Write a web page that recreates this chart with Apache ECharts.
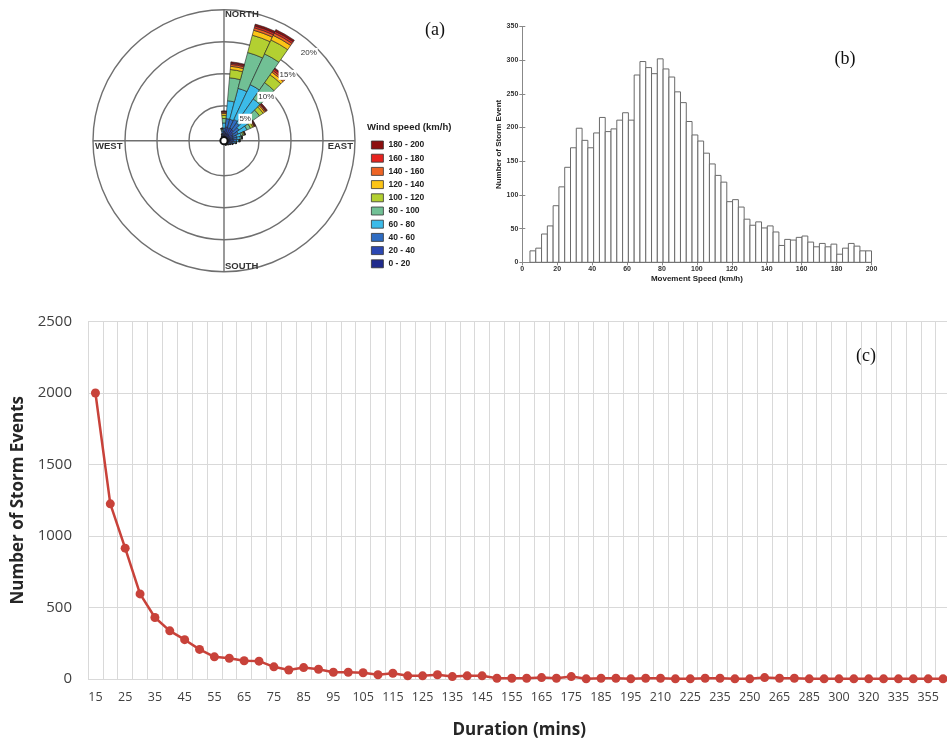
<!DOCTYPE html>
<html><head><meta charset="utf-8">
<script src="https://cdn.jsdelivr.net/npm/echarts@6/dist/echarts.min.js"></script>
<style>html,body{margin:0;padding:0;background:#fff}#c{width:947px;height:741px}</style>
</head><body><div id="c"></div>
<script>
// ---------- (a) wind rose : percent of storm events by direction and speed class ----------
const directions = ['0','10','20','30','40','50','60','70','80','90','100','110','120','130','140','150','160','170',
  '180','190','200','210','220','230','240','250','260','270','280','290','300','310','320','330','340','350'];
const speedClasses = ['0 - 20','20 - 40','40 - 60','60 - 80','80 - 100','100 - 120','120 - 140','140 - 160','160 - 180','180 - 200'];
const speedColors = ['#1f2a8c','#2c48b2','#2f6cc2','#3cbbe9','#71c095','#b3d031','#fcc416','#ee6425','#e6231f','#8c0f0f'];
const ws0_20    = [0.5,0.8,0.7,0.7,0.7,0.6,0.5,0.5,0.5,0.5, 0.4,0.3,0.3,0.2,0.2,0.1,0.1,0.1,0,0, 0,0,0,0,0,0,0,0,0,0, 0,0,0,0.1,0.2,0.4];
const ws20_40   = [0.5,0.9,0.9,1.0,0.9,0.7,0.6,0.5,0.5,0.5, 0.4,0.3,0.2,0.2,0.1,0.1,0.1,0,0,0, 0,0,0,0,0,0,0,0,0,0, 0,0,0,0.1,0.2,0.3];
const ws40_60   = [0.5,1.3,1.4,1.5,1.3,1.1,0.9,0.6,0.6,0.5, 0.4,0.3,0.2,0.1,0,0,0,0,0,0, 0,0,0,0,0,0,0,0,0,0, 0,0,0,0.1,0.1,0.3];
const ws60_80   = [0.8,2.8,5.0,6.0,4.6,2.6,1.5,0.7,0.5,0.3, 0.2,0.1,0,0,0,0,0,0,0,0, 0,0,0,0,0,0,0,0,0,0, 0,0,0,0,0.1,0.2];
const ws80_100  = [0.7,3.6,5.8,5.3,3.1,1.3,0.6,0.3,0.2,0.1, 0.1,0,0,0,0,0,0,0,0,0, 0,0,0,0,0,0,0,0,0,0, 0,0,0,0,0,0.1];
const ws100_120 = [0.5,1.3,2.8,2.4,1.5,0.7,0.4,0.2,0.1,0.1, 0,0,0,0,0,0,0,0,0,0, 0,0,0,0,0,0,0,0,0,0, 0,0,0,0,0,0.1];
const ws120_140 = [0.3,0.5,0.8,0.8,0.5,0.3,0.2,0.1,0,0, 0,0,0,0,0,0,0,0,0,0, 0,0,0,0,0,0,0,0,0,0, 0,0,0,0,0,0.05];
const ws140_160 = [0.2,0.3,0.4,0.4,0.3,0.2,0.1,0.05,0,0, 0,0,0,0,0,0,0,0,0,0, 0,0,0,0,0,0,0,0,0,0, 0,0,0,0,0,0.05];
const ws160_180 = [0.1,0.2,0.3,0.3,0.3,0.1,0.1,0.05,0,0, 0,0,0,0,0,0,0,0,0,0, 0,0,0,0,0,0,0,0,0,0, 0,0,0,0,0,0];
const ws180_200 = [0.1,0.2,0.3,0.3,0.2,0.2,0.1,0,0,0, 0,0,0,0,0,0,0,0,0,0, 0,0,0,0,0,0,0,0,0,0, 0,0,0,0,0,0];
const speedData = [ws0_20, ws20_40, ws40_60, ws60_80, ws80_100, ws100_120, ws120_140, ws140_160, ws160_180, ws180_200];
const compassLabels = ['NORTH','EAST','SOUTH','WEST'];
const percentTicks = [5,10,15,20];

// ---------- (b) histogram of movement speed ----------
const histRange = [4.4, 200];
const histCounts = [17,21,42,54,84,112,141,170,199,181, 170,192,215,194,198,211,222,211,278,298,
  289,280,302,287,275,253,237,209,189,180, 162,146,129,119,90,93,82,64,55,60,
  51,54,45,25,34,33,37,39,30,23, 28,23,27,12,21,28,24,17,17];

// ---------- (c) storm events by duration ----------
const durationCats = ['15','20','25','30','35','40','45','50','55','60','65','70','75','80','85','90','95','100',
  '105','110','115','120','125','130','135','140','145','150','155','160','165','170','175','180','185','190',
  '195','200','210','215','225','230','235','240','250','255','265','270','285','290','300','305','320','325',
  '335','345','355','360'];
const stormEvents = [2000,1225,915,595,430,337,275,207,155,145,128,125,85,63,80,68,47,47,
  44,30,40,22,22,30,17,22,22,5,5,5,10,5,17,1,5,5,
  1,5,5,1,1,5,5,1,1,10,5,5,1,1,1,1,1,1,
  1,1,1,1];

// ---------- layout constants ----------
const roseCx = 224, roseCy = 140.7, roseR = 131;
const sans = 'Liberation Sans, Arial, sans-serif';
const xl = 'Open Sans, sans-serif';

const binW = (histRange[1] - histRange[0]) / histCounts.length;
const histData = histCounts.map((c, i) => [histRange[0] + i * binW, histRange[0] + (i + 1) * binW, c]);

const chart = echarts.init(document.getElementById('c'), null, {renderer: 'canvas'});

const roseSeries = speedClasses.map((name, i) => ({
  name, type: 'bar', coordinateSystem: 'polar', polarIndex: 0, stack: 'rose',
  barCategoryGap: '0%', data: speedData[i],
  itemStyle: {color: speedColors[i], borderColor: '#222', borderWidth: 0.6},
  emphasis: {disabled: true}, z: 3
}));

const hiddenAxisParts = {axisLine: {show: false}, axisTick: {show: false}, axisLabel: {show: false}, splitLine: {show: false}};

const option = {
  animation: false,
  backgroundColor: '#fff',
  polar: [
    {center: [roseCx, roseCy], radius: [3, roseR]},
    {center: [roseCx, roseCy], radius: [3, roseR]},
    {center: [roseCx, roseCy], radius: [0, 122]}
  ],
  angleAxis: [
    Object.assign({polarIndex: 0, type: 'category', data: directions, startAngle: 95, clockwise: true}, hiddenAxisParts),
    {polarIndex: 1, type: 'value', min: 0, max: 360, interval: 90, startAngle: 90, clockwise: true,
      axisLine: {show: false}, axisTick: {show: false}, axisLabel: {show: false},
      splitLine: {show: true, lineStyle: {color: '#6f6f6f', width: 1.4}}},
    Object.assign({polarIndex: 2, type: 'value', min: 0, max: 360, startAngle: 46}, hiddenAxisParts)
  ],
  radiusAxis: [
    {polarIndex: 0, min: 0, max: 20, interval: 5, axisLine: {show: false}, axisTick: {show: false}, axisLabel: {show: false},
      splitLine: {show: true, lineStyle: {color: '#6f6f6f', width: 1.4}}},
    Object.assign({polarIndex: 1, min: 0, max: 20}, hiddenAxisParts),
    {polarIndex: 2, min: 0, max: 20, interval: 5, z: 20, axisLine: {show: false}, axisTick: {show: false}, splitLine: {show: false},
      axisLabel: {show: true, showMinLabel: false, margin: 0, align: 'center', verticalAlign: 'middle',
        formatter: v => percentTicks.includes(v) ? v + '%' : '',
        fontFamily: sans, fontSize: 8, color: '#333', backgroundColor: '#fff', padding: [1, 1]}}
  ],
  legend: {
    orient: 'vertical', left: 366, top: 135, icon: 'rect', itemWidth: 12, itemHeight: 8, itemGap: 3.2,
    data: speedClasses.slice().reverse(), selectedMode: false,
    itemStyle: {borderColor: '#333', borderWidth: 0.8},
    textStyle: {fontFamily: sans, fontSize: 8.5, fontWeight: 'bold', color: '#222', lineHeight: 10, padding: [0, 0, 0, 0]}
  },
  grid: [
    {left: 522.3, right: 75.5, top: 26.5, bottom: 478.7, outerBoundsMode: 'none'},
    {left: 88, right: -3.5, top: 321.5, bottom: 62, outerBoundsMode: 'none'}
  ],
  xAxis: [
    {gridIndex: 0, type: 'value', min: 0, max: 200, interval: 20, position: 'bottom',
      name: 'Movement Speed (km/h)', nameLocation: 'middle', nameGap: 12,
      nameTextStyle: {fontFamily: sans, fontSize: 8, fontWeight: 'bold', color: '#222'},
      axisLine: {show: true, lineStyle: {color: '#888'}}, axisTick: {show: true, inside: true, length: 3, lineStyle: {color: '#888'}},
      axisLabel: {fontFamily: sans, fontSize: 7, fontWeight: 'bold', color: '#333', margin: 3}, splitLine: {show: false}},
    {gridIndex: 0, type: 'value', min: 0, max: 200, interval: 20, position: 'top',
      axisLine: {show: true, lineStyle: {color: '#888'}}, axisTick: {show: true, inside: true, length: 3, lineStyle: {color: '#888'}},
      axisLabel: {show: false}, splitLine: {show: false}},
    {gridIndex: 1, type: 'category', data: durationCats, boundaryGap: true,
      name: 'Duration (mins)', nameLocation: 'middle', nameGap: 43,
      nameTextStyle: {fontFamily: xl, fontSize: 17, fontWeight: 'bold', color: '#262626'},
      axisLine: {show: false}, axisTick: {show: false},
      axisLabel: {interval: 1, fontFamily: xl, fontSize: 12.5, color: '#404040', margin: 12},
      splitLine: {show: true, interval: 0, lineStyle: {color: '#d9d9d9', width: 1}}}
  ],
  yAxis: [
    {gridIndex: 0, type: 'value', min: 0, max: 350, interval: 50,
      name: 'Number of Storm Event', nameLocation: 'middle', nameGap: 20,
      nameTextStyle: {fontFamily: sans, fontSize: 8, fontWeight: 'bold', color: '#222'},
      axisLine: {show: true, lineStyle: {color: '#888'}}, axisTick: {show: true, inside: true, length: 3, lineStyle: {color: '#888'}},
      axisLabel: {fontFamily: sans, fontSize: 7, fontWeight: 'bold', color: '#333', margin: 4}, splitLine: {show: false}},
    {gridIndex: 0, type: 'value', min: 0, max: 350, interval: 50, position: 'right',
      axisLine: {show: true, lineStyle: {color: '#888'}}, axisTick: {show: true, inside: true, length: 3, lineStyle: {color: '#888'}},
      axisLabel: {show: false}, splitLine: {show: false}},
    {gridIndex: 1, type: 'value', min: 0, max: 2500, interval: 500,
      name: 'Number of Storm Events', nameLocation: 'middle', nameGap: 56,
      nameTextStyle: {fontFamily: xl, fontSize: 17, fontWeight: 'bold', color: '#262626'},
      axisLine: {show: false}, axisTick: {show: false},
      axisLabel: {fontFamily: xl, fontSize: 15, color: '#404040', margin: 16, formatter: v => String(v)},
      splitLine: {show: true, lineStyle: {color: '#d9d9d9', width: 1}}}
  ],
  series: roseSeries.concat([
    {type: 'custom', xAxisIndex: 0, yAxisIndex: 0, data: histData, encode: {x: [0, 1], y: 2},
      renderItem: function (params, api) {
        const p0 = api.coord([api.value(0), api.value(2)]);
        const p1 = api.coord([api.value(1), 0]);
        return {type: 'rect', shape: {x: p0[0], y: p0[1], width: p1[0] - p0[0], height: p1[1] - p0[1]},
          style: {fill: '#fff', stroke: '#6a6a6a', lineWidth: 1}};
      }, silent: true},
    {type: 'line', xAxisIndex: 2, yAxisIndex: 2, data: stormEvents,
      symbol: 'circle', symbolSize: 9, lineStyle: {color: '#c8423a', width: 2.5},
      itemStyle: {color: '#c8423a'}, emphasis: {disabled: true}, clip: false}
  ]),
  graphic: [
    {type: 'text', x: roseCx + 1, y: roseCy - roseR + 5, style: {text: compassLabels[0], fontFamily: sans, fontSize: 9.5, fontWeight: 'bold', fill: '#333', align: 'left', verticalAlign: 'middle'}, z: 50},
    {type: 'text', x: roseCx + roseR - 2, y: roseCy + 6, style: {text: compassLabels[1], fontFamily: sans, fontSize: 9.5, fontWeight: 'bold', fill: '#333', align: 'right', verticalAlign: 'middle'}, z: 50},
    {type: 'text', x: roseCx + 1, y: roseCy + roseR - 5, style: {text: compassLabels[2], fontFamily: sans, fontSize: 9.5, fontWeight: 'bold', fill: '#333', align: 'left', verticalAlign: 'middle'}, z: 50},
    {type: 'text', x: roseCx - roseR + 2, y: roseCy + 6, style: {text: compassLabels[3], fontFamily: sans, fontSize: 9.5, fontWeight: 'bold', fill: '#333', align: 'left', verticalAlign: 'middle'}, z: 50},
    {type: 'circle', shape: {cx: roseCx, cy: roseCy, r: 3.6}, style: {fill: '#fff', stroke: '#111', lineWidth: 2}, z: 60},
    {type: 'text', x: 367, y: 127, style: {text: 'Wind speed (km/h)', fontFamily: sans, fontSize: 9.5, fontWeight: 'bold', fill: '#222', align: 'left', verticalAlign: 'middle'}},
    {type: 'text', x: 435, y: 30, style: {text: '(a)', fontFamily: 'Liberation Serif, serif', fontSize: 18, fill: '#111', align: 'center', verticalAlign: 'middle'}},
    {type: 'text', x: 845, y: 59, style: {text: '(b)', fontFamily: 'Liberation Serif, serif', fontSize: 18, fill: '#111', align: 'center', verticalAlign: 'middle'}},
    {type: 'text', x: 866, y: 356, style: {text: '(c)', fontFamily: 'Liberation Serif, serif', fontSize: 18, fill: '#111', align: 'center', verticalAlign: 'middle'}}
  ]
};
chart.setOption(option);
</script>
</body></html>
